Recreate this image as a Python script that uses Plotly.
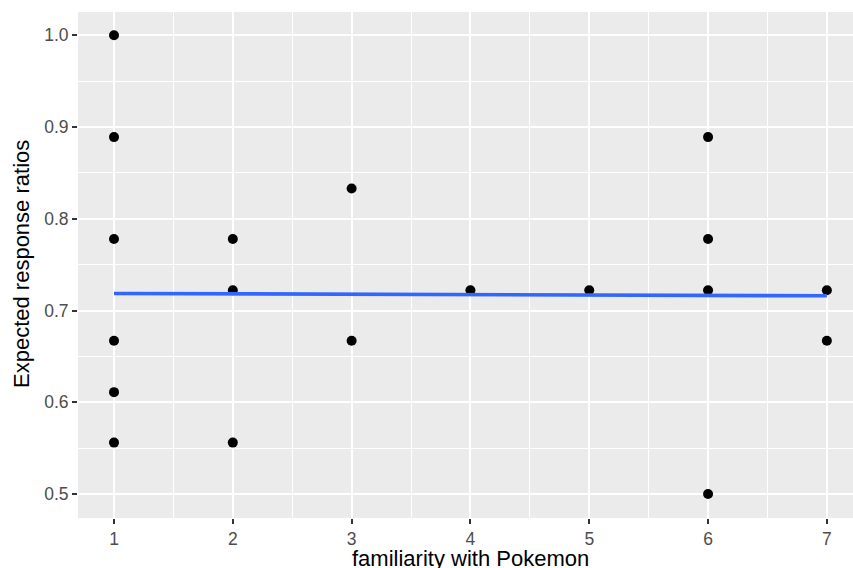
import plotly.graph_objects as go

# data
familiarity = [1, 1, 1, 1, 1, 1, 2, 2, 2, 3, 3, 4, 5, 6, 6, 6, 6, 7, 7]
ratios = [1.0, 0.889, 0.778, 0.667, 0.611, 0.556,
          0.778, 0.722, 0.556,
          0.833, 0.667,
          0.722,
          0.722,
          0.889, 0.778, 0.722, 0.5,
          0.722, 0.667]
fit_x = [1, 7]
fit_y = [0.7186, 0.7160]
x_ticks = [1, 2, 3, 4, 5, 6, 7]
y_ticks = [0.5, 0.6, 0.7, 0.8, 0.9, 1.0]
y_tick_labels = ["0.5", "0.6", "0.7", "0.8", "0.9", "1.0"]

fig = go.Figure()
fig.add_trace(go.Scatter(
    x=familiarity, y=ratios, mode="markers",
    marker=dict(color="black", size=10, line=dict(width=0)),
    showlegend=False, hoverinfo="x+y"))
fig.add_trace(go.Scatter(
    x=fit_x, y=fit_y, mode="lines",
    line=dict(color="#3366FF", width=3.6),
    showlegend=False))

font_family = "Liberation Sans, Arial, sans-serif"
L, R, T, B = 78, 0, 12, 50
W, H = 853, 568
pw, ph = W - L - R, H - T - B
fig.update_layout(
    width=W, height=H,
    margin=dict(l=L, r=R, t=T, b=B),
    paper_bgcolor="white",
    plot_bgcolor="#EBEBEB",
    font=dict(family=font_family, color="#000000"),
    xaxis=dict(
        range=[0.697, 7.22], tickvals=x_ticks, ticktext=[str(v) for v in x_ticks],
        showgrid=True, gridcolor="white", gridwidth=2,
        minor=dict(dtick=0.5, tick0=0.5, showgrid=True, gridcolor="white", gridwidth=1, ticks=""),
        ticks="outside", ticklen=5, tickwidth=1.5, tickcolor="#333333",
        tickfont=dict(size=17.5, color="#4D4D4D", family=font_family),
        zeroline=False, showline=False, fixedrange=True,
    ),
    yaxis=dict(
        range=[0.4738, 1.0254], tickvals=y_ticks, ticktext=y_tick_labels,
        showgrid=True, gridcolor="white", gridwidth=2,
        minor=dict(dtick=0.05, tick0=0.45, showgrid=True, gridcolor="white", gridwidth=1, ticks=""),
        ticks="outside", ticklen=5, tickwidth=1.5, tickcolor="#333333",
        tickfont=dict(size=17.5, color="#4D4D4D", family=font_family),
        zeroline=False, showline=False, fixedrange=True,
    ),
    annotations=[
        dict(text="familiarity with Pokemon", xref="paper", yref="paper",
             x=(470 - L) / pw, y=-(558 - (H - B)) / ph,
             xanchor="center", yanchor="middle", showarrow=False,
             font=dict(size=22, color="black", family=font_family)),
        dict(text="Expected response ratios", xref="paper", yref="paper",
             x=-(L - 21) / pw, y=((H - B) - 264) / ph,
             xanchor="center", yanchor="middle", showarrow=False, textangle=-90,
             font=dict(size=22, color="black", family=font_family)),
    ],
)

fig.write_html(
    "out.html",
    config={"displayModeBar": False},
    post_script="document.body.style.margin='0';document.body.style.padding='0';document.body.style.overflow='hidden';",
)
